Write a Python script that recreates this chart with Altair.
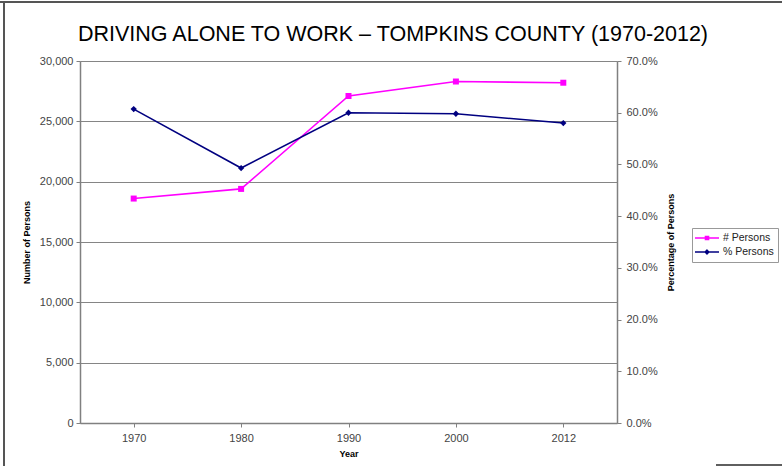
import altair as alt
import pandas as pd

years = ["1970", "1980", "1990", "2000", "2012"]
persons = [18600, 19400, 27100, 28300, 28200]
pct_persons = [0.607, 0.493, 0.600, 0.598, 0.580]
series = ["# Persons", "% Persons"]
colors = ["#FF00FF", "#000080"]
title_text = ["DRIVING ALONE TO WORK \u2013 TOMPKINS COUNTY (1970-2012)"]

df_n = pd.DataFrame({"Year": years, "Persons": persons})
df_p = pd.DataFrame({"Year": years, "Pct": pct_persons})
df_leg = pd.DataFrame({"series": series})
df_title = pd.DataFrame({"t": title_text})

FONT = "Liberation Sans"
LABEL_COLOR = "#444444"
AXIS_COLOR = "#808080"
LBL = 11
TTL = 9

x_enc = alt.X(
    "Year:O",
    sort=years,
    scale=alt.Scale(paddingInner=0, paddingOuter=0),
    axis=alt.Axis(
        title="Year", bandPosition=0, labelAngle=0,
        labelFont=FONT, labelFontSize=LBL, labelColor=LABEL_COLOR, labelPadding=5,
        titleFont=FONT, titleFontSize=TTL, titleFontWeight="bold", titleColor="#000000",
        titlePadding=6, tickSize=4, tickColor=AXIS_COLOR, domainColor=AXIS_COLOR,
        domainWidth=1.5, grid=False,
    ),
)

y_left = alt.Y(
    "Persons:Q",
    scale=alt.Scale(domain=[0, 30000], nice=False),
    axis=alt.Axis(
        title="Number of Persons", values=[0, 5000, 10000, 15000, 20000, 25000, 30000],
        format=",.0f", labelFont=FONT, labelFontSize=LBL, labelColor=LABEL_COLOR,
        labelPadding=3, titleFont=FONT, titleFontSize=TTL, titleFontWeight="bold",
        titleColor="#000000", titlePadding=8, tickSize=4, tickColor=AXIS_COLOR,
        domainColor=AXIS_COLOR, domainWidth=1.5, grid=True, gridColor="#858585",
        gridWidth=1,
    ),
)

y_right = alt.Y(
    "Pct:Q",
    scale=alt.Scale(domain=[0, 0.7], nice=False),
    axis=alt.Axis(
        title="Percentage of Persons", orient="right",
        values=[0, 0.1, 0.2, 0.3, 0.4, 0.5, 0.6, 0.7], format=".1%",
        labelFont=FONT, labelFontSize=LBL, labelColor=LABEL_COLOR, labelPadding=5,
        titleFont=FONT, titleFontSize=TTL, titleFontWeight="bold", titleColor="#000000",
        titleAngle=270, titleBaseline="top", titlePadding=9, tickSize=4,
        tickColor=AXIS_COLOR, domainColor=AXIS_COLOR, domainWidth=1.5, grid=False,
    ),
)

n_line = alt.Chart(df_n).mark_line(color=colors[0], strokeWidth=1.6).encode(x=x_enc, y=y_left)
n_pts = alt.Chart(df_n).mark_point(shape="square", filled=True, size=36, color=colors[0], opacity=1).encode(x=x_enc, y=y_left)
p_line = alt.Chart(df_p).mark_line(color=colors[1], strokeWidth=1.6).encode(x=x_enc, y=y_right)
p_pts = alt.Chart(df_p).mark_point(shape="diamond", filled=True, size=40, color=colors[1], opacity=1).encode(x=x_enc, y=y_right)

left = alt.layer(n_line, n_pts)
right = alt.layer(p_line, p_pts)

legend_cfg = alt.Legend(
    title=None, orient="none", legendX=612, legendY=167,
    labelFont=FONT, labelFontSize=10.5, labelColor="#222222", labelOffset=10,
    symbolSize=100, symbolOpacity=1, symbolStrokeWidth=1.6, symbolOffset=5,
    strokeColor="#999999", fillColor="#ffffff", padding=4, rowPadding=2,
)
shape_paths = [
    "M-2.4,0H2.4M-0.3,-0.3H0.3V0.3H-0.3Z",
    "M-2.4,0H2.4M0,-0.35L0.35,0L0,0.35L-0.35,0Z",
]
leg = alt.Chart(df_leg).mark_point(filled=True, opacity=0).encode(
    fill=alt.Fill("series:N", scale=alt.Scale(domain=series, range=colors), legend=legend_cfg),
    stroke=alt.Stroke("series:N", scale=alt.Scale(domain=series, range=colors), legend=legend_cfg),
    shape=alt.Shape("series:N", scale=alt.Scale(domain=series, range=shape_paths), legend=legend_cfg),
)

title = alt.Chart(df_title).mark_text(
    font=FONT, fontSize=21.5, color="#000000", align="center", baseline="alphabetic"
).encode(text="t:N", x=alt.value(313), y=alt.value(-20))

# outer frame of the original image
frame_top = alt.Chart(df_leg).mark_rule(color="#555555", strokeWidth=2).encode(
    x=alt.value(-80), x2=alt.value(702), y=alt.value(-59))
frame_left = alt.Chart(df_leg).mark_rule(color="#555555", strokeWidth=2).encode(
    x=alt.value(-76), y=alt.value(-60), y2=alt.value(405))
frame_br = alt.Chart(df_leg).mark_rule(color="#555555", strokeWidth=1.5).encode(
    x=alt.value(636), x2=alt.value(702), y=alt.value(404))

chart = alt.layer(left, right, leg, title, frame_top, frame_left, frame_br).resolve_scale(
    y="independent"
).properties(
    width=537, height=362,
    padding={"left": 80, "top": 61, "right": 165, "bottom": 52},
    autosize=alt.AutoSizeParams(type="none"),
).configure_view(
    fill="#DDDDDD", stroke=None
).configure(background="#ffffff")

chart.save("out.html", embed_options={"renderer": "svg", "actions": False})
